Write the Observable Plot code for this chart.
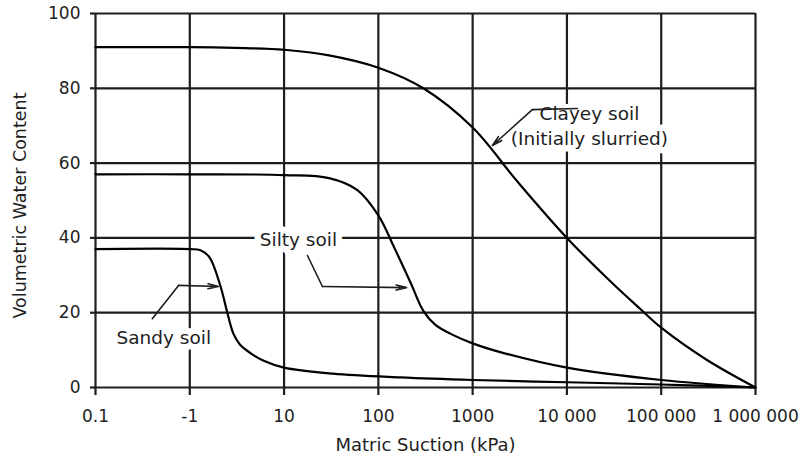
<!DOCTYPE html>
<html>
<head>
<meta charset="utf-8">
<script src="https://cdn.jsdelivr.net/npm/d3@7"></script>
<script src="https://cdn.jsdelivr.net/npm/@observablehq/plot@0.6"></script>
<style>
  html, body { margin: 0; padding: 0; background: #fff; }
  #chart svg { display: block; }
</style>
</head>
<body>
<div id="chart"></div>
<script>
// Tick values and labels
const xTicks = [0.1, 1, 10, 100, 1000, 10000, 100000, 1000000];
const xLabels = ["0.1", "-1", "10", "100", "1000", "10 000", "100 000", "1 000 000"];
const yTicks = [0, 20, 40, 60, 80, 100];

// Curves: [matric suction kPa, volumetric water content]
const clayey = [[0.1,91],[1,91],[3,90.8],[10,90.3],[30,88.8],[100,85.5],[300,80],[1000,69.5],[3000,55],[10000,40],[30000,28],[60000,21],[100000,16],[300000,7.5],[1000000,0]];
const silty = [[0.1,57],[1,57],[10,56.8],[30,56],[60,52.8],[100,46],[150,37],[220,28],[300,20.5],[400,16.8],[600,14.2],[1000,11.8],[2000,9.4],[10000,5.3],[100000,2],[1000000,0]];
const sandy = [[0.1,37],[1,37],[1.3,36.7],[1.62,34.8],[2.12,27],[2.5,20],[2.9,14.4],[3.4,11.5],[4.4,9.2],[6,7.2],[10,5.3],[33,3.7],[170,2.7],[1000,2],[10000,1.4],[100000,0.8],[1000000,0]];

// Annotation labels and leaders (data coordinates)
const labels = [
  {text: "Clayey soil\n(Initially slurried)", x: 17300, y: 70.2, anchor: "start"},
  {text: "Silty soil", x: 14.2, y: 40, anchor: "middle"},
  {text: "Sandy soil", x: 0.53, y: 13.9, anchor: "middle"}
];
const leaders = [
  {name: "clayey", pts: [[12900,74.6],[4300,74.3],[1620,64.7]]},
  {name: "silty", pts: [[17.7,35.3],[25.5,27.0],[199,26.7]]},
  {name: "sandy", pts: [[0.40,18.4],[0.76,27.3],[2.01,27.0]]}
];

const curveRows = [
  ...clayey.map(([x, y]) => ({soil: "clayey", x, y})),
  ...silty.map(([x, y]) => ({soil: "silty", x, y})),
  ...sandy.map(([x, y]) => ({soil: "sandy", x, y}))
];
const leaderRows = leaders.flatMap(l => l.pts.slice(0, 2).map(([x, y]) => ({name: l.name, x, y})));
const arrowRows = leaders.map(l => ({x1: l.pts[1][0], y1: l.pts[1][1], x2: l.pts[2][0], y2: l.pts[2][1]}));

const ink = "#1e1e1e";
const font = "DejaVu Sans";

const chart = Plot.plot({
  width: 803,
  height: 463,
  marginLeft: 95,
  marginRight: 48,
  marginTop: 13,
  marginBottom: 76,
  style: {fontFamily: font, fontSize: "17px", color: ink, background: "#fff"},
  x: {type: "log", domain: [0.1, 1000000]},
  y: {domain: [0, 100]},
  marks: [
    Plot.gridX(xTicks, {stroke: ink, strokeOpacity: 1, strokeWidth: 2.2}),
    Plot.gridY(yTicks, {stroke: ink, strokeOpacity: 1, strokeWidth: 2.2}),
    Plot.axisX({ticks: xTicks, tickFormat: d => xLabels[xTicks.indexOf(d)], tickSize: 8, tickPadding: 14, fontSize: 17, label: null, stroke: ink, strokeWidth: 2.2}),
    Plot.axisY({ticks: yTicks, tickSize: 5, tickPadding: 10, fontSize: 17, label: null, stroke: ink, strokeWidth: 2.2}),
    Plot.line(curveRows, {x: "x", y: "y", z: "soil", curve: "catmull-rom", stroke: "#000", strokeWidth: 2.2}),
    Plot.text(labels, {x: "x", y: "y", text: "text", textAnchor: d => d.anchor, fontSize: 18.5, lineHeight: 1.35, fill: ink, stroke: "#fff", strokeWidth: 13, paintOrder: "stroke"}),
    Plot.line(leaderRows, {x: "x", y: "y", z: "name", stroke: ink, strokeWidth: 1.6}),
    Plot.arrow(arrowRows, {x1: "x1", y1: "y1", x2: "x2", y2: "y2", stroke: ink, strokeWidth: 1.6, headLength: 10, headAngle: 28}),
    Plot.text(["Matric Suction (kPa)"], {frameAnchor: "bottom", dy: 63, fontSize: 18, fill: ink}),
    Plot.text(["Volumetric Water Content"], {frameAnchor: "left", textAnchor: "middle", rotate: -90, dx: -75, dy: 5, fontSize: 17.5, fill: ink})
  ]
});
document.getElementById("chart").appendChild(chart);
</script>
</body>
</html>
